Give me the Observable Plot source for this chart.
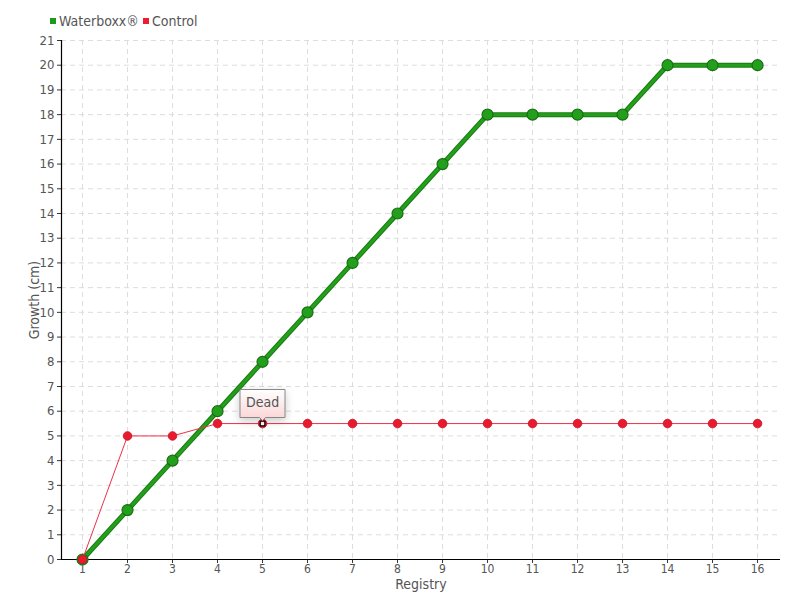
<!DOCTYPE html>
<html><head><meta charset="utf-8">
<script src="https://cdn.jsdelivr.net/npm/d3@7"></script>
<script src="https://cdn.jsdelivr.net/npm/@observablehq/plot@0.6"></script>
<style>
body{margin:0;background:#fff;font-family:"DejaVu Sans",sans-serif;font-stretch:condensed;}
svg text{font-stretch:condensed;}
#legend{height:30px;position:relative;font-size:14px;color:#555;}
#legend span.sw{position:absolute;top:18px;width:6px;height:6px;}
#legend span.t{position:absolute;top:13px;line-height:16px;}
</style></head>
<body>
<div id="legend">
  <span class="sw" style="left:50px;background:#1f9a18"></span><span class="t" style="left:59px">Waterboxx®</span>
  <span class="sw" style="left:143px;background:#ee1c33"></span><span class="t" style="left:152px">Control</span>
</div>
<div id="chart"></div>
<script>
const registry = [1,2,3,4,5,6,7,8,9,10,11,12,13,14,15,16];
const waterboxx = [0,2,4,6,8,10,12,14,16,18,18,18,18,20,20,20];
const control = [0,5,5,5.5,5.5,5.5,5.5,5.5,5.5,5.5,5.5,5.5,5.5,5.5,5.5,5.5];
const yTicks = d3.range(0,22);
const notes = [{x:5, y:5.5, label:"Dead"}];

const wData = registry.map((r,i)=>({x:r,y:waterboxx[i]}));
const cData = registry.map((r,i)=>({x:r,y:control[i]}));
const font = "DejaVu Sans, sans-serif";

const defs = () => {
  const g = d3.create("svg:defs");
  const lg = g.append("linearGradient").attr("id","tipg").attr("x1",0).attr("y1",0).attr("x2",0).attr("y2",1);
  lg.append("stop").attr("offset","0%").attr("stop-color","#ffffff");
  lg.append("stop").attr("offset","100%").attr("stop-color","#fbd3d3");
  return g.node();
};

const plot = Plot.plot({
  width: 800, height: 570,
  marginTop: 10, marginBottom: 41, marginLeft: 61, marginRight: 20,
  style: {fontFamily: font, fontSize: "13px", color: "#555", background: "#fff", fontStretch: "condensed"},
  x: {domain: [0.533, 16.51], label: null},
  y: {domain: [0, 21], label: null},
  marks: [
    defs,
    Plot.gridX(registry, {stroke: "#ddd", strokeOpacity: 1, strokeDasharray: "5,4"}),
    Plot.gridY(yTicks.slice(1), {stroke: "#ddd", strokeOpacity: 1, strokeDasharray: "5,4"}),
    Plot.axisX({ticks: registry, tickFormat: d=>String(d), tickSize: 4, tickPadding: 1, stroke: "#333", fill: "#555", label: null, fontSize: 12}),
    Plot.axisY({ticks: yTicks, tickSize: 4, tickPadding: 3, stroke: "#333", fill: "#555", label: null, fontSize: 13}),
    Plot.ruleY([0], {stroke: "#000", strokeWidth: 1.2}),
    Plot.ruleX([0.533], {stroke: "#000", strokeWidth: 1.2}),
    Plot.text(["Growth (cm)"], {frameAnchor: "left", dx: -27, rotate: -90, textAnchor: "middle", lineAnchor: "middle", fill: "#555", fontSize: 14}),
    Plot.text(["Registry"], {frameAnchor: "bottom", dy: 25, lineAnchor: "middle", fill: "#555", fontSize: 14}),
    Plot.line(wData, {x: "x", y: "y", stroke: "#1b7a15", strokeWidth: 5}),
    Plot.line(wData, {x: "x", y: "y", stroke: "#22a01a", strokeWidth: 3}),
    Plot.dot(wData, {x: "x", y: "y", r: 5.5, fill: "#22a01c", stroke: "#1a6e14", strokeWidth: 1.2}),
    Plot.line(cData, {x: "x", y: "y", stroke: "#ee3048", strokeWidth: 1}),
    Plot.dot(cData, {x: "x", y: "y", r: 4.3, fill: "#ea1a2e", stroke: "#c8102a", strokeWidth: 0.8}),
    Plot.dot(notes, {x: "x", y: "y", symbol: "square", r: 2.6, fill: "#fff", stroke: "#000", strokeWidth: 1.2}),
    Plot.tip(notes, {x: "x", y: "y", title: "label", anchor: "bottom", dy: -3, pointerSize: 6,
      fill: "url(#tipg)", stroke: "#888", fontSize: 14, textPadding: 6, fontFamily: font})
  ]
});
document.getElementById("chart").appendChild(plot);
</script>
</body></html>
